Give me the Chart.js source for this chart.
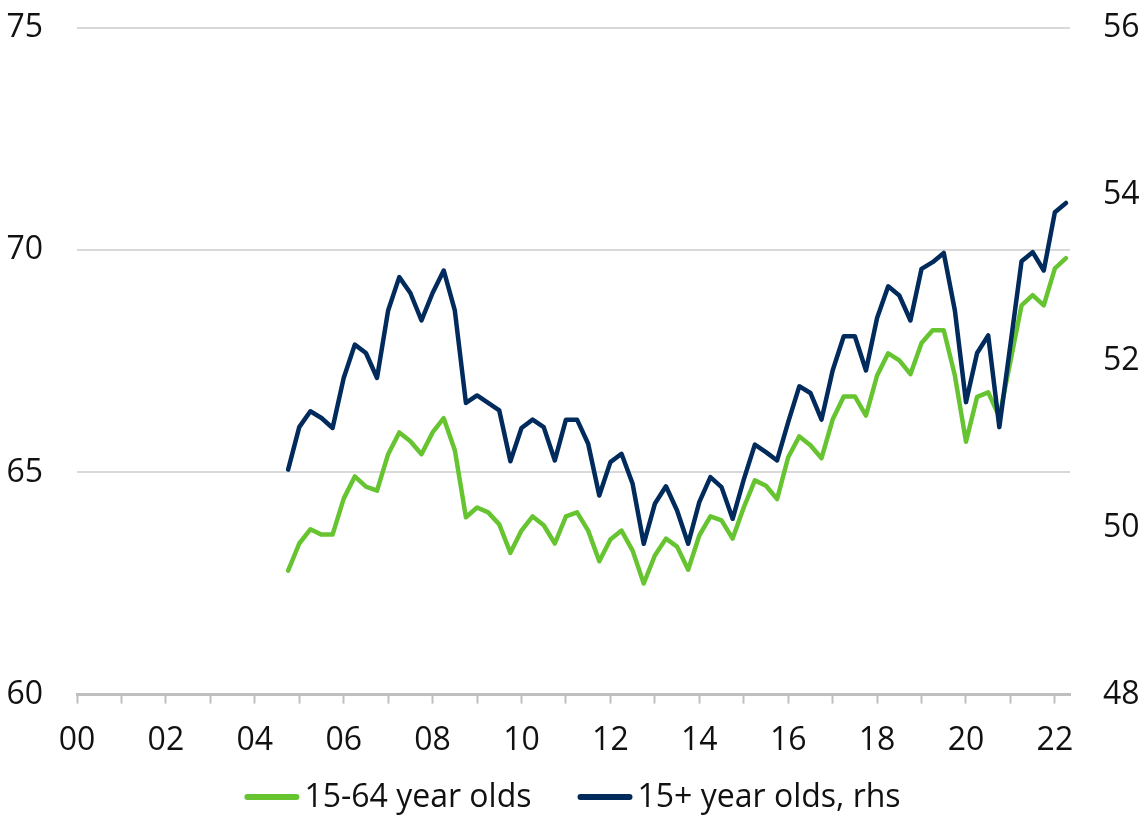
<!DOCTYPE html>
<html>
<head>
<meta charset="utf-8">
<script src="https://cdn.jsdelivr.net/npm/chart.js@4"></script>
<style>
  html, body { margin: 0; padding: 0; background: #ffffff; }
  #wrap { width: 1145px; height: 822px; }
</style>
</head>
<body>
<div id="wrap"><canvas id="chart" width="1145" height="822"></canvas></div>
<script>
// Quarterly series, first observation 2004 Q4
const startYear = 2004;
const startQuarter = 4;

// Employment rate, 15-64 year olds (%), left axis
const age15to64 = [
  62.79, 63.40, 63.72, 63.60, 63.60, 64.41, 64.91, 64.68, 64.59, 65.41,
  65.90, 65.70, 65.41, 65.90, 66.22, 65.50, 63.99, 64.21, 64.10, 63.83,
  63.19, 63.69, 64.01, 63.81, 63.40, 64.01, 64.10, 63.69, 63.00, 63.49,
  63.69, 63.24, 62.50, 63.13, 63.51, 63.33, 62.81, 63.58, 64.01, 63.92,
  63.51, 64.21, 64.82, 64.70, 64.40, 65.34, 65.81, 65.61, 65.32, 66.19,
  66.71, 66.71, 66.28, 67.18, 67.68, 67.52, 67.21, 67.91, 68.20, 68.20,
  67.18, 65.69, 66.70, 66.80, 66.25, 67.50, 68.76, 68.99, 68.76, 69.59,
  69.82
];

// Employment rate, 15+ year olds (%), right axis
const age15plus = [
  50.70, 51.21, 51.40, 51.32, 51.20, 51.80, 52.20, 52.10, 51.80, 52.61,
  53.01, 52.82, 52.49, 52.82, 53.09, 52.61, 51.50, 51.59, 51.50, 51.41,
  50.80, 51.20, 51.30, 51.21, 50.81, 51.30, 51.30, 51.01, 50.39, 50.79,
  50.89, 50.53, 49.81, 50.29, 50.50, 50.21, 49.81, 50.31, 50.61, 50.49,
  50.11, 50.58, 51.00, 50.91, 50.81, 51.27, 51.70, 51.62, 51.30, 51.89,
  52.30, 52.30, 51.89, 52.52, 52.90, 52.79, 52.49, 53.11, 53.19, 53.30,
  52.61, 51.51, 52.10, 52.31, 51.21, 52.20, 53.20, 53.31, 53.09, 53.79,
  53.90
];

const seriesNames = ['15-64 year olds', '15+ year olds, rhs'];
const seriesColors = ['#66c431', '#002b5c'];

// x-axis: one tick per year, labelled every second year ("00" ... "22")
const tickYears = [];
for (let y = 0; y <= 22; y++) tickYears.push(y);
const leftTicks = [60, 65, 70, 75];
const rightTicks = [48, 50, 52, 54, 56];

// Quarter positions in years since 2000
const quarterPos = age15to64.map((_, i) => {
  const q = (startQuarter - 1) + i;
  return (startYear - 2000) + Math.floor(q / 4) + (q % 4) / 4;
});

const toPoints = vals => vals.map((v, i) => ({ x: quarterPos[i], y: v }));

const FONT_FAMILY = '"Open Sans", "Noto Sans", sans-serif';
const FONT_SIZE = 32;
const TEXT = '#111111';
const NONE = 'rgba(0,0,0,0)';

// Bottom legend: short thick line followed directly by the series name
const lineLegend = {
  id: 'lineLegend',
  afterDraw(chart, args, opts) {
    const ctx = chart.ctx;
    const markLen = 55, markGap = 5, itemGap = 46, y = opts.y;
    ctx.save();
    ctx.font = `${FONT_SIZE}px ${FONT_FAMILY}`;
    ctx.textBaseline = 'middle';
    ctx.textAlign = 'left';
    const widths = seriesNames.map(n => ctx.measureText(n).width);
    let total = 0;
    widths.forEach((w, i) => { total += markLen + markGap + w + (i ? itemGap : 0); });
    let x = (chart.width - total) / 2;
    seriesNames.forEach((name, i) => {
      ctx.strokeStyle = seriesColors[i];
      ctx.lineWidth = 6;
      ctx.lineCap = 'round';
      ctx.beginPath();
      ctx.moveTo(x + 3, y);
      ctx.lineTo(x + markLen - 3, y);
      ctx.stroke();
      x += markLen + markGap;
      ctx.fillStyle = TEXT;
      ctx.fillText(name, x, y + 1);
      x += widths[i] + itemGap;
    });
    ctx.restore();
  }
};

new Chart(document.getElementById('chart'), {
  type: 'line',
  data: {
    datasets: [
      {
        label: seriesNames[0],
        data: toPoints(age15to64),
        yAxisID: 'yL',
        borderColor: seriesColors[0],
        backgroundColor: seriesColors[0],
        borderWidth: 4.5,
        pointRadius: 0,
        tension: 0,
        borderJoinStyle: 'round',
        borderCapStyle: 'round',
        order: 1
      },
      {
        label: seriesNames[1],
        data: toPoints(age15plus),
        yAxisID: 'yR',
        borderColor: seriesColors[1],
        backgroundColor: seriesColors[1],
        borderWidth: 4.5,
        pointRadius: 0,
        tension: 0,
        borderJoinStyle: 'round',
        borderCapStyle: 'round',
        order: 0
      }
    ]
  },
  plugins: [lineLegend],
  options: {
    responsive: false,
    animation: false,
    layout: { padding: { top: 28, bottom: 44, left: 0, right: 0 } },
    plugins: {
      tooltip: { enabled: false },
      legend: { display: false },
      lineLegend: { y: 797 }
    },
    scales: {
      x: {
        type: 'linear',
        min: 0,
        max: 22.34,
        afterBuildTicks: scale => { scale.ticks = tickYears.map(v => ({ value: v })); },
        ticks: {
          autoSkip: false,
          maxRotation: 0,
          padding: 18,
          font: { family: FONT_FAMILY, size: FONT_SIZE },
          color: TEXT,
          callback: v => (v % 2 === 0 ? String(v).padStart(2, '0') : '')
        },
        grid: {
          drawOnChartArea: false,
          drawTicks: true,
          tickLength: 9,
          tickWidth: 2,
          tickColor: '#bfbfbf'
        },
        border: { display: true, color: '#bfbfbf', width: 3 }
      },
      yL: {
        position: 'left',
        min: 60,
        max: 75,
        afterBuildTicks: scale => { scale.ticks = leftTicks.map(v => ({ value: v })); },
        afterFit: scale => { scale.width = 77; },
        ticks: {
          padding: 2,
          font: { family: FONT_FAMILY, size: FONT_SIZE },
          color: TEXT
        },
        grid: {
          drawTicks: true,
          tickLength: 32,
          tickColor: NONE,
          color: ctx => (ctx.tick && ctx.tick.value === 60 ? NONE : '#d9d9d9'),
          lineWidth: 2
        },
        border: { display: false }
      },
      yR: {
        position: 'right',
        min: 48,
        max: 56,
        afterBuildTicks: scale => { scale.ticks = rightTicks.map(v => ({ value: v })); },
        afterFit: scale => { scale.width = 75; },
        ticks: {
          padding: 2,
          font: { family: FONT_FAMILY, size: FONT_SIZE },
          color: TEXT
        },
        grid: {
          display: true,
          drawOnChartArea: false,
          drawTicks: true,
          tickLength: 31,
          tickColor: NONE
        },
        border: { display: false }
      }
    }
  }
});
</script>
</body>
</html>
